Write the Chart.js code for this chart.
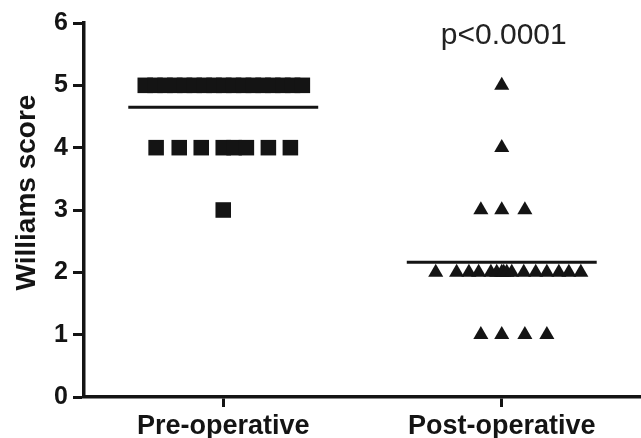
<!DOCTYPE html>
<html>
<head>
<meta charset="utf-8">
<script src="https://cdn.jsdelivr.net/npm/chart.js@4"></script>
<style>
  body { margin: 0; background: #fff; }
  #wrap { width: 641px; height: 438px; }
</style>
</head>
<body>
<div id="wrap"><canvas id="chart" width="641" height="438"></canvas></div>
<script>
// groups on the x axis (1 = Pre, 2 = Post)
const categories = ['Pre-operative', 'Post-operative'];
const yTicks = [0, 1, 2, 3, 4, 5, 6];

// Pre-operative scores and their scatter x positions
const preScores = [5,5,5,5,5,5,5,5,5,5,5,5,5,5,5,5,5, 4,4,4,4,4,4,4,4, 3];
const preX = [0.720,0.755,0.791,0.826,0.861,0.896,0.932,0.967,1.002,1.037,1.073,1.108,1.143,1.178,1.214,1.249,1.284,
              0.759,0.842,0.921,1.000,1.039,1.083,1.162,1.241,
              1.000];

// Post-operative scores and x positions
const postScores = [5, 4, 3,3,3, 2,2,2,2,2,2,2,2,2,2,2,2,2,2,2,2, 1,1,1,1];
const postX = [2.000, 2.000, 1.925,2.000,2.083,
               1.763,1.838,1.882,1.917,1.961,1.982,2.000,2.007,2.018,2.036,2.079,2.122,2.162,2.205,2.241,2.284,
               1.925,2.000,2.083,2.162];

// group means
const means = [4.65, 2.16];
const groupCenters = [1, 2];
const meanHalfWidth = 0.341;
const pValueText = 'p<0.0001';
const yTitle = 'Williams score';

const ink = '#141414';
const font = '"Liberation Sans", Arial, sans-serif';

function toPoints(xs, ys) {
    return xs.map((x, i) => ({ x: x, y: ys[i] }));
}
function meanLine(i) {
    return [{ x: groupCenters[i] - meanHalfWidth, y: means[i] }, { x: groupCenters[i] + meanHalfWidth, y: means[i] }];
}

// p value over the post group, and the y title (drawn by hand so it can sit a bit high like the original)
const extraText = {
    id: 'extraText',
    afterDraw(chart) {
        const ctx = chart.ctx;
        const x = chart.scales.x.getPixelForValue(groupCenters[1]);
        const y = chart.scales.y.getPixelForValue(5.79);
        ctx.save();
        ctx.fillStyle = '#222';
        ctx.font = '30px ' + font;
        ctx.textAlign = 'center';
        ctx.textBaseline = 'middle';
        ctx.fillText(pValueText, x + 2, y);

        ctx.fillStyle = ink;
        ctx.font = 'bold 28px ' + font;
        ctx.translate(27, chart.scales.y.getPixelForValue(3.28));
        ctx.rotate(-Math.PI / 2);
        ctx.fillText(yTitle, 0, 0);
        ctx.restore();
    }
};

const ctx = document.getElementById('chart').getContext('2d');
new Chart(ctx, {
    type: 'scatter',
    data: {
        datasets: [{
            label: categories[0],
            data: toPoints(preX, preScores),
            pointStyle: 'rect',
            pointRadius: 11,
            backgroundColor: ink,
            borderWidth: 0
        },
        {
            label: categories[1],
            data: toPoints(postX, postScores),
            pointStyle: 'triangle',
            pointRadius: 8.7,
            backgroundColor: ink,
            borderWidth: 0
        },
        {
            type: 'line',
            label: 'Pre mean',
            data: meanLine(0),
            borderColor: ink,
            borderWidth: 3,
            pointRadius: 0
        },
        {
            type: 'line',
            label: 'Post mean',
            data: meanLine(1),
            borderColor: ink,
            borderWidth: 3,
            pointRadius: 0
        }]
    },
    options: {
        responsive: false,
        animation: false,
        layout: {
            autoPadding: false,
            padding: { top: 23, left: 0, right: 0, bottom: 0 }
        },
        plugins: {
            legend: { display: false },
            tooltip: { enabled: false }
        },
        scales: {
            x: {
                type: 'linear',
                min: 0.5,
                max: 2.5,
                afterBuildTicks: (scale) => {
                    scale.ticks = [{ value: 1 }, { value: 2 }];
                },
                afterFit: (scale) => {
                    scale.height = 41;
                },
                ticks: {
                    callback: (v) => categories[v - 1],
                    color: ink,
                    padding: 3,
                    maxRotation: 0,
                    font: { family: font, size: 27, weight: 'bold' }
                },
                grid: {
                    drawOnChartArea: false,
                    tickLength: 10,
                    tickWidth: 3,
                    tickColor: ink
                },
                border: { color: ink, width: 3.5 }
            },
            y: {
                min: yTicks[0],
                max: yTicks[yTicks.length - 1],
                afterFit: (scale) => {
                    scale.width = 84;
                },
                ticks: {
                    stepSize: 1,
                    color: ink,
                    padding: 5,
                    font: { family: font, size: 25, weight: 'bold' }
                },
                grid: {
                    drawOnChartArea: false,
                    tickLength: 11,
                    tickWidth: 3,
                    tickColor: ink
                },
                border: { color: ink, width: 3.5 }
            }
        }
    },
    plugins: [extraText]
});
</script>
</body>
</html>
